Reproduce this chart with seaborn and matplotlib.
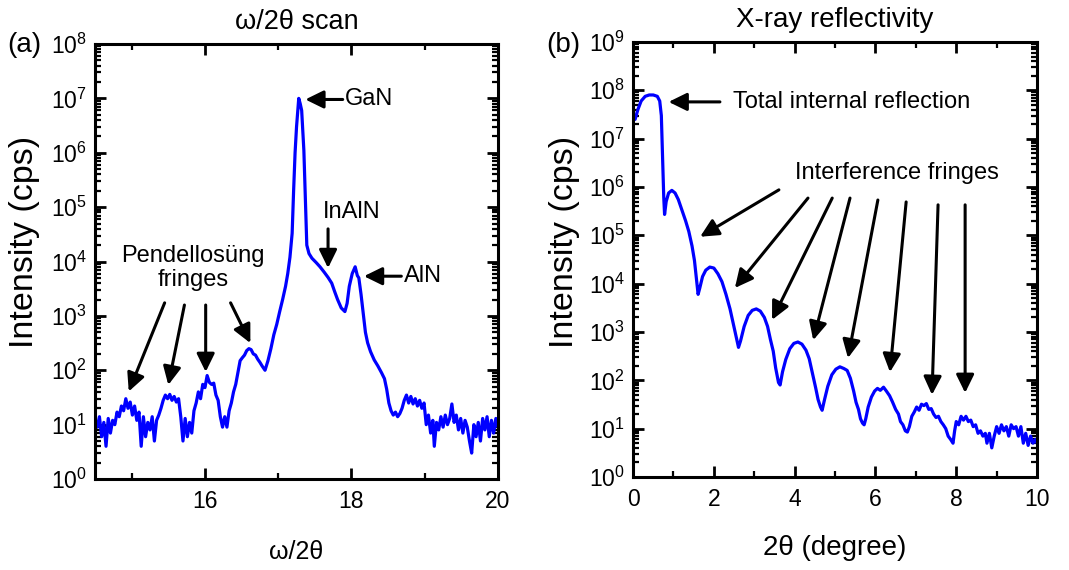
import numpy as np
import pandas as pd
import matplotlib
matplotlib.use("Agg")
import matplotlib.pyplot as plt
import matplotlib.ticker as mticker
import seaborn as sns

# (a) omega/2theta scan
scan_angle = [
    14.50, 14.53, 14.56, 14.59, 14.62, 14.65, 14.68, 14.71, 14.74, 14.77,
    14.80, 14.83, 14.86, 14.89, 14.92, 14.95, 14.98, 15.01, 15.04, 15.07,
    15.10, 15.13, 15.16, 15.19, 15.22, 15.25, 15.28, 15.31, 15.34, 15.37,
    15.40, 15.43, 15.46, 15.49, 15.52, 15.55, 15.58, 15.61, 15.64, 15.67,
    15.70, 15.73, 15.76, 15.79, 15.82, 15.85, 15.88, 15.91, 15.94, 15.97,
    16.00, 16.03, 16.06, 16.09, 16.12, 16.15, 16.18, 16.21, 16.24, 16.27,
    16.30, 16.33, 16.36, 16.39, 16.42, 16.45, 16.48, 16.51, 16.54, 16.57,
    16.60, 16.63, 16.66, 16.69, 16.72, 16.75, 16.78, 16.82, 16.86, 16.90,
    16.94, 16.98, 17.02, 17.06, 17.10, 17.13, 17.16, 17.19, 17.21, 17.23,
    17.25, 17.28, 17.30, 17.32, 17.35, 17.37, 17.39, 17.42, 17.46, 17.52,
    17.57, 17.63, 17.68, 17.73, 17.77, 17.81, 17.86, 17.91, 17.94, 17.97,
    18.01, 18.05, 18.08, 18.10, 18.13, 18.16, 18.19, 18.22, 18.26, 18.31,
    18.36, 18.41, 18.45, 18.48, 18.51, 18.54, 18.57, 18.60, 18.63, 18.66,
    18.69, 18.72, 18.75, 18.78, 18.81, 18.84, 18.87, 18.90, 18.93, 18.96,
    18.99, 19.02, 19.05, 19.08, 19.11, 19.13, 19.16, 19.19, 19.22, 19.25,
    19.28, 19.31, 19.34, 19.37, 19.40, 19.43, 19.46, 19.49, 19.52, 19.55,
    19.58, 19.61, 19.64, 19.67, 19.70, 19.73, 19.76, 19.79, 19.82, 19.85,
    19.88, 19.91, 19.94, 19.97, 20.00,
]
scan_cps = [
    12, 9, 14, 6, 11, 4, 13, 7, 12, 10,
    17, 14, 22, 18, 30, 20, 26, 15, 22, 12,
    17, 4, 14, 6, 11, 8, 14, 5, 12, 15,
    20, 28, 35, 30, 36, 28, 33, 26, 30, 14,
    5, 13, 6, 11, 7, 18, 25, 40, 30, 55,
    48, 80, 60, 55, 58, 35, 28, 14, 9, 14,
    9, 18, 25, 40, 55, 90, 150, 170, 190, 230,
    250, 240, 200, 190, 160, 140, 120, 100, 150, 250,
    450, 700, 1200, 2000, 3500, 6000, 1.2e4, 3.3e4, 2e5, 1e6,
    3e6, 1e7, 8e6, 6e6, 1.1e6, 1.5e5, 2e4, 1.4e4, 1.15e4, 9500,
    8000, 6300, 5100, 4000, 2800, 2000, 1400, 1200, 1700, 3500,
    6000, 8000, 5500, 5000, 2500, 1100, 500, 320, 220, 155,
    120, 90, 70, 45, 25, 18, 15, 17, 14, 16,
    20, 28, 35, 25, 33, 24, 30, 22, 28, 20,
    25, 10, 15, 7, 12, 4, 11, 8, 14, 9,
    15, 10, 13, 24, 11, 15, 8, 13, 7, 12,
    9, 5, 3, 10, 6, 11, 5, 13, 8, 14,
    6, 12, 7, 13, 9,
]

# (b) X-ray reflectivity
xrr_angle = [
    0.05, 0.12, 0.20, 0.30, 0.40, 0.50, 0.60, 0.66, 0.70, 0.72,
    0.74, 0.76, 0.78, 0.82, 0.88, 0.96, 1.04, 1.12, 1.20, 1.30,
    1.38, 1.46, 1.52, 1.57, 1.61, 1.65, 1.72, 1.80, 1.90, 2.00,
    2.10, 2.20, 2.30, 2.40, 2.48, 2.55, 2.61, 2.66, 2.75, 2.85,
    2.95, 3.05, 3.15, 3.25, 3.33, 3.40, 3.47, 3.53, 3.60, 3.64,
    3.70, 3.78, 3.88, 3.98, 4.08, 4.18, 4.28, 4.36, 4.45, 4.52,
    4.58, 4.64, 4.68, 4.74, 4.82, 4.92, 5.02, 5.12, 5.22, 5.30,
    5.38, 5.46, 5.52, 5.58, 5.63, 5.68, 5.72, 5.76, 5.82, 5.90,
    5.98, 6.05, 6.12, 6.20, 6.27, 6.35, 6.42, 6.50, 6.57, 6.62,
    6.68, 6.74, 6.79, 6.84, 6.90, 6.96, 7.02, 7.08, 7.14, 7.20,
    7.26, 7.32, 7.38, 7.44, 7.50, 7.56, 7.62, 7.68, 7.74, 7.80,
    7.86, 7.92, 7.96, 8.00, 8.06, 8.12, 8.18, 8.24, 8.30, 8.36,
    8.42, 8.48, 8.54, 8.60, 8.66, 8.72, 8.76, 8.82, 8.88, 8.94,
    9.00, 9.06, 9.12, 9.18, 9.24, 9.30, 9.36, 9.42, 9.48, 9.54,
    9.60, 9.66, 9.72, 9.78, 9.84, 9.90, 9.96, 10.00,
]
xrr_cps = [
    2.5e7, 4e7, 6e7, 7.5e7, 8e7, 8e7, 7.5e7, 6e7, 3e7, 8e6,
    2e6, 6e5, 2.7e5, 5e5, 7.5e5, 8.5e5, 7.5e5, 5.5e5, 3.5e5, 2e5,
    1.2e5, 6e4, 3e4, 1.2e4, 6e3, 8e3, 1.4e4, 1.9e4, 2.2e4, 2.1e4,
    1.6e4, 1.1e4, 6e3, 3e3, 1.5e3, 800, 480, 650, 1300, 2200,
    2800, 3000, 2700, 2000, 1300, 700, 400, 180, 90, 80,
    150, 270, 450, 580, 620, 560, 420, 280, 130, 70,
    40, 28, 24, 40, 75, 130, 170, 190, 175, 160,
    110, 60, 35, 25, 16, 13, 12, 16, 28, 45,
    60, 68, 62, 72, 60, 48, 36, 25, 20, 14,
    12, 9, 8.5, 11, 18, 22, 28, 24, 32, 30,
    33, 25, 26, 20, 17, 18, 14, 12, 10, 7,
    6, 5, 9, 14, 12, 18, 15, 18, 14, 15,
    11, 12, 8, 9, 7, 8, 5, 8, 4, 7,
    11, 8, 12, 9, 11, 7, 12, 10, 11, 7,
    11, 5, 8, 4.5, 7, 5, 6, 5,
]

BLUE = "#0000ff"
ARROW = dict(arrowstyle="-|>,head_length=0.55,head_width=0.27", color="black",
             lw=2.2, mutation_scale=20, shrinkA=0, shrinkB=0)
TEXT_SIZE = 17


def arrow(ax, tail, head):
    ax.annotate("", xy=head, xytext=tail, arrowprops=ARROW)


def style_axes(ax, xlim, ylim, xmajor):
    ax.set_yscale("log")
    ax.set_xlim(*xlim)
    ax.set_ylim(*ylim)
    ax.xaxis.set_major_locator(mticker.MultipleLocator(xmajor))
    ax.xaxis.set_minor_locator(mticker.MultipleLocator(xmajor / 2))
    ax.yaxis.set_major_locator(mticker.LogLocator(base=10, numticks=15))
    ax.yaxis.set_minor_locator(mticker.LogLocator(base=10, subs=np.arange(2, 10), numticks=15))
    ax.yaxis.set_minor_formatter(mticker.NullFormatter())
    ax.tick_params(which="both", direction="in", top=True, right=True,
                   labelsize=16.5, color="black", labelcolor="black")
    ax.tick_params(which="major", length=8, width=2)
    ax.tick_params(which="minor", length=4.5, width=1.6)
    ax.tick_params(axis="y", pad=6)
    ax.tick_params(axis="x", pad=8)
    for sp in ax.spines.values():
        sp.set_linewidth(2.2)
        sp.set_color("black")
    ax.set_ylabel("Intensity (cps)", fontsize=24.5)


def plot_scan(ax):
    df = pd.DataFrame({"angle": scan_angle, "cps": scan_cps})
    sns.lineplot(data=df, x="angle", y="cps", ax=ax, color=BLUE, lw=2.3, estimator=None)
    style_axes(ax, (14.5, 20), (1, 1e8), 2)
    ax.yaxis.set_label_coords(-0.136, 0.545)
    ax.set_xlabel("ω/2θ", fontsize=18, labelpad=19)
    ax.set_title("ω/2θ scan", fontsize=19.5, pad=11)

    arrow(ax, (17.88, 10**6.98), (17.37, 10**6.98))
    ax.text(17.91, 10**6.98, "GaN", fontsize=TEXT_SIZE, va="center", ha="left")
    ax.text(18.0, 10**4.91, "InAlN", fontsize=TEXT_SIZE, va="center", ha="center")
    arrow(ax, (17.68, 10**4.6), (17.68, 10**3.88))
    arrow(ax, (18.68, 10**3.73), (18.17, 10**3.73))
    ax.text(18.71, 10**3.73, "AlN", fontsize=TEXT_SIZE, va="center", ha="left")
    ax.text(15.84, 10**3.88, "Pendellosüng\nfringes", fontsize=TEXT_SIZE,
            va="center", ha="center", linespacing=1.1)
    arrow(ax, (15.45, 10**3.24), (14.96, 10**1.61))
    arrow(ax, (15.72, 10**3.20), (15.50, 10**1.73))
    arrow(ax, (16.01, 10**3.20), (16.01, 10**1.97))
    arrow(ax, (16.35, 10**3.24), (16.62, 10**2.50))


def plot_xrr(ax):
    df = pd.DataFrame({"angle": xrr_angle, "cps": xrr_cps})
    sns.lineplot(data=df, x="angle", y="cps", ax=ax, color=BLUE, lw=2.3, estimator=None)
    style_axes(ax, (0, 10), (1, 1e9), 2)
    ax.yaxis.set_label_coords(-0.131, 0.54)
    ax.set_xlabel("2θ (degree)", fontsize=20, labelpad=17)
    ax.set_title("X-ray reflectivity", fontsize=20, pad=11)

    arrow(ax, (2.15, 10**7.76), (0.88, 10**7.76))
    ax.text(2.48, 10**7.76, "Total internal reflection", fontsize=TEXT_SIZE, va="center", ha="left")
    ax.text(6.53, 10**6.29, "Interference fringes", fontsize=TEXT_SIZE, va="center", ha="center")
    fringe_arrows = [
        ((3.61, 5.94), (1.66, 4.97)),
        ((4.33, 5.77), (2.52, 3.91)),
        ((4.93, 5.77), (3.44, 3.25)),
        ((5.37, 5.77), (4.46, 2.83)),
        ((6.06, 5.73), (5.32, 2.46)),
        ((6.76, 5.69), (6.36, 2.17)),
        ((7.55, 5.63), (7.40, 1.70)),
        ((8.22, 5.63), (8.22, 1.74)),
    ]
    for (tx, ty), (hx, hy) in fringe_arrows:
        arrow(ax, (tx, 10**ty), (hx, 10**hy))


if __name__ == "__main__":
    sns.set_theme(style="ticks")
    plt.rcParams["font.family"] = ["Liberation Sans", "DejaVu Sans"]
    plt.rcParams["text.color"] = "black"
    plt.rcParams["axes.labelcolor"] = "black"
    plt.rcParams["xtick.color"] = "black"
    plt.rcParams["ytick.color"] = "black"

    fig = plt.figure(figsize=(10.69, 5.70), dpi=100)
    ax_a = fig.add_axes([0.0889, 0.1596, 0.3770, 0.7632])
    ax_b = fig.add_axes([0.5922, 0.1632, 0.3779, 0.7632])
    plot_scan(ax_a)
    plot_xrr(ax_b)

    fig.text(7 / 1069, 1 - 45 / 570, "(a)", fontsize=20, va="center", ha="left")
    fig.text(546 / 1069, 1 - 45 / 570, "(b)", fontsize=20, va="center", ha="left")

    fig.savefig("out.png", dpi=100, facecolor="white")
